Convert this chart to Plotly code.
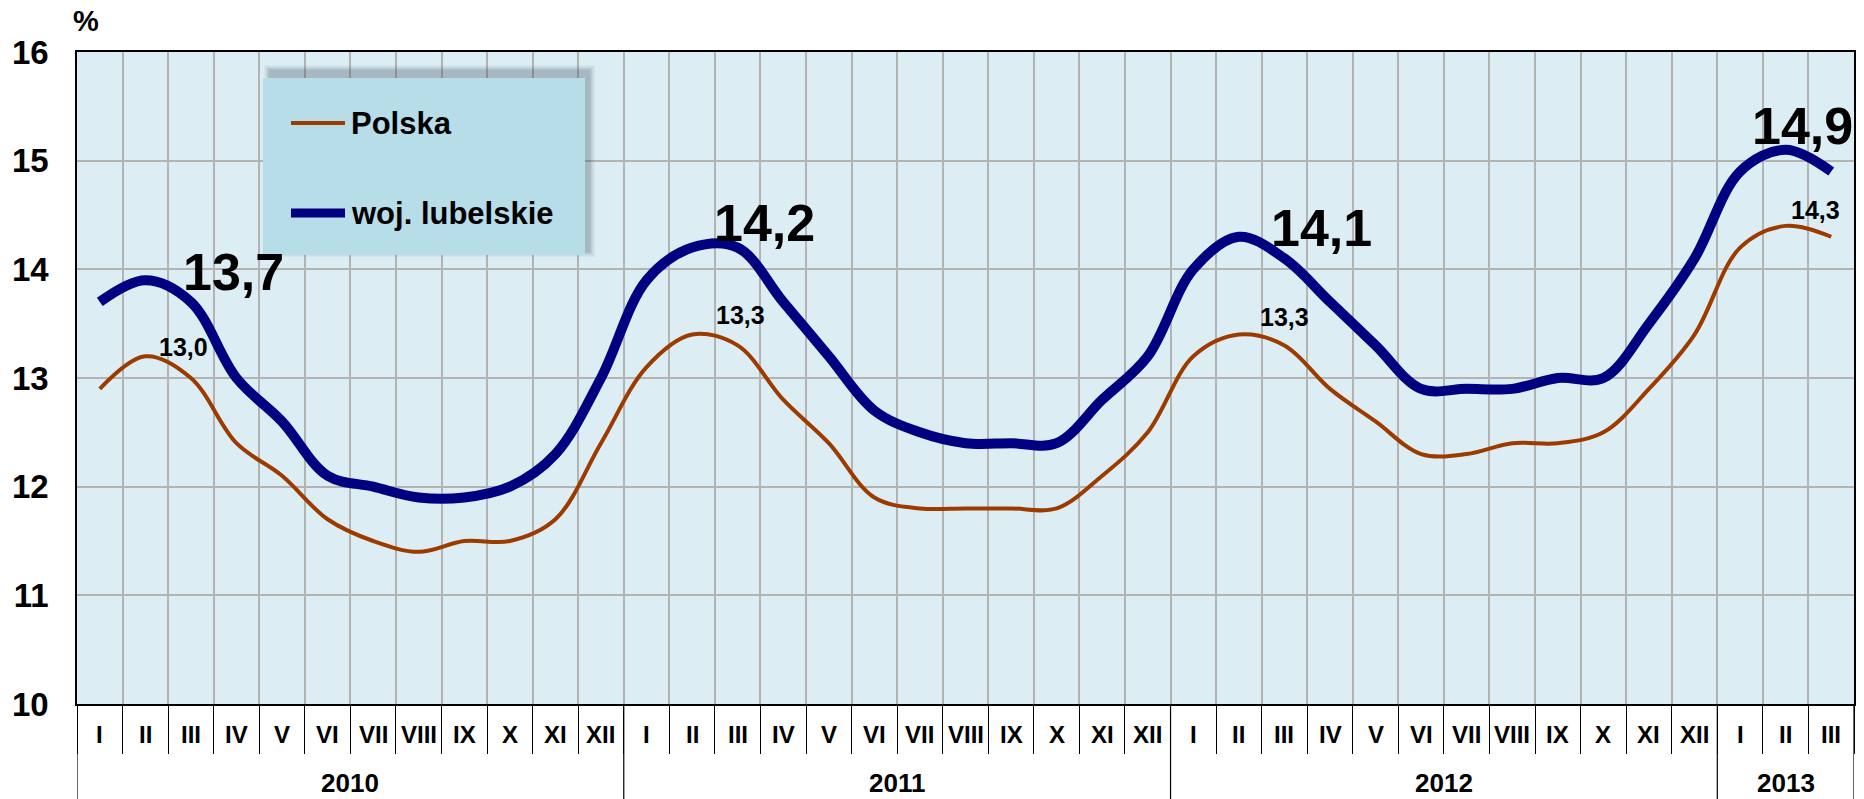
import plotly.graph_objects as go

# ---- data ----
months = ["I", "II", "III", "IV", "V", "VI", "VII", "VIII", "IX", "X", "XI", "XII"]
years = ["2010", "2011", "2012", "2013"]
months_per_year = [12, 12, 12, 3]
month_labels = months * 3 + months[:3]

polska = [12.9, 13.2, 13.0, 12.4, 12.1, 11.7, 11.5, 11.4, 11.5, 11.5, 11.7, 12.4,
          13.1, 13.4, 13.3, 12.8, 12.4, 11.9, 11.8, 11.8, 11.8, 11.8, 12.1, 12.5,
          13.2, 13.4, 13.3, 12.9, 12.6, 12.3, 12.3, 12.4, 12.4, 12.5, 12.9, 13.4,
          14.2, 14.4, 14.3]
lubelskie = [13.7, 13.9, 13.7, 13.0, 12.6, 12.1, 12.0, 11.9, 11.9, 12.0, 12.3, 13.0,
             13.9, 14.2, 14.2, 13.7, 13.2, 12.7, 12.5, 12.4, 12.4, 12.4, 12.8, 13.2,
             14.0, 14.3, 14.1, 13.7, 13.3, 12.9, 12.9, 12.9, 13.0, 13.0, 13.5, 14.1,
             14.9, 15.1, 14.9]
series_names = ["Polska", "woj. lubelskie"]
series_colors = ["#9C3A00", "#000080"]
series_widths = [4, 10]
label_idx = [2, 14, 26, 38]
y_ticks = [10, 11, 12, 13, 14, 15, 16]

# ---- layout geometry (pixels) ----
W, H = 1864, 799
L, R, T, B = 77, 10, 52, 95
PW, PH = W - L - R, H - T - B


def px(X):
    return (X - L) / PW


def py(Y):
    return (H - B - Y) / PH


FONT = "Liberation Sans, Arial, sans-serif"
n = len(month_labels)
xs = list(range(n))

fig = go.Figure()
for name, vals, col, wid in zip(series_names, [polska, lubelskie], series_colors, series_widths):
    fig.add_trace(go.Scatter(
        x=xs, y=vals, name=name, mode="lines", showlegend=False,
        line=dict(color=col, width=wid, shape="spline", smoothing=1.0),
    ))

ann = []
# data labels
big_off = [(43, 30), (27, 25), (37, 30), (-29, 46)]
small_off = [(-7, 31), (3, 30), (0, 28), (-16, 27)]
for i, k in enumerate(label_idx):
    ann.append(dict(x=k, y=lubelskie[k], text=f"{lubelskie[k]:.1f}".replace(".", ","),
                    showarrow=False, xanchor="center", yanchor="middle",
                    xshift=big_off[i][0], yshift=big_off[i][1],
                    font=dict(family=FONT, size=52, color="black", weight="bold")))
    ann.append(dict(x=k, y=polska[k], text=f"{polska[k]:.1f}".replace(".", ","),
                    showarrow=False, xanchor="center", yanchor="middle",
                    xshift=small_off[i][0], yshift=small_off[i][1],
                    font=dict(family=FONT, size=25, color="black", weight="bold")))

# month labels
for k, m in enumerate(month_labels):
    ann.append(dict(x=k, y=py(734), yref="paper", text=m, showarrow=False,
                    xanchor="center", yanchor="middle",
                    font=dict(family=FONT, size=24, color="black", weight="bold")))
# year labels and separators
shapes = []
start = 0
bounds = [-0.5]
for yr, cnt in zip(years, months_per_year):
    ann.append(dict(x=start + (cnt - 1) / 2, y=py(783), yref="paper", text=yr,
                    showarrow=False, xanchor="center", yanchor="middle",
                    font=dict(family=FONT, size=26, color="black", weight="bold")))
    start += cnt
    bounds.append(start - 0.5)
for b in bounds:
    shapes.append(dict(type="line", xref="x", yref="paper", x0=b, x1=b,
                       y0=0, y1=py(H), line=dict(color="black", width=1.2)))

# percent sign
ann.append(dict(x=px(86), y=py(21), xref="paper", yref="paper", text="%",
                showarrow=False, xanchor="center", yanchor="middle",
                font=dict(family=FONT, size=29, color="black", weight="bold")))

# legend box with soft shadow
bx0, bx1, by0, by1 = 263, 585, 78, 255
for d, op in [(12, 0.05), (9, 0.07), (6, 0.10), (3, 0.14)]:
    shapes.append(dict(type="rect", xref="paper", yref="paper", layer="above",
                       x0=px(bx0 + 7 - d / 2), x1=px(bx1 + 4 + d / 2),
                       y0=py(by1 - 4 + d / 2), y1=py(by0 - 7 - d / 2),
                       fillcolor=f"rgba(60,80,90,{op})", line=dict(width=0)))
shapes.append(dict(type="rect", xref="paper", yref="paper", layer="above",
                   x0=px(bx0), x1=px(bx1), y0=py(by1), y1=py(by0),
                   fillcolor="#B7DDE8", line=dict(width=0)))
# legend entries
for name, col, wid, ly in zip(series_names, series_colors, series_widths, [123, 213]):
    shapes.append(dict(type="line", xref="paper", yref="paper", layer="above",
                       x0=px(291), x1=px(345), y0=py(ly), y1=py(ly),
                       line=dict(color=col, width=wid - 1 if wid > 5 else wid)))
    ann.append(dict(x=px(349), y=py(ly), xref="paper", yref="paper", text=name,
                    showarrow=False, xanchor="left", yanchor="middle",
                    font=dict(family=FONT, size=31, color="black", weight="bold")))

fig.update_layout(
    width=W, height=H,
    margin=dict(l=L, r=R, t=T, b=B, autoexpand=False),
    paper_bgcolor="white",
    plot_bgcolor="#DCEEF4",
    showlegend=False,
    annotations=ann,
    shapes=shapes,
    xaxis=dict(range=[-0.5, n - 0.5], tickmode="array",
               tickvals=[k - 0.5 for k in range(n + 1)],
               ticktext=[""] * (n + 1), automargin=False,
               showgrid=True, gridcolor="#B3B3B3", gridwidth=1.5,
               ticks="outside", ticklen=48, tickcolor="black", tickwidth=1.2,
               showline=True, linecolor="black", linewidth=1.5, mirror=True,
               zeroline=False, fixedrange=True),
    yaxis=dict(range=[10, 16], tickmode="array", tickvals=y_ticks,
               ticktext=[str(v) for v in y_ticks], automargin=False,
               showgrid=True, gridcolor="#B3B3B3", gridwidth=1.5,
               ticks="", ticklabelstandoff=20,
               tickfont=dict(family=FONT, size=33, color="black", weight="bold"),
               showline=True, linecolor="black", linewidth=1.5, mirror=True,
               zeroline=False, fixedrange=True),
)

fig.write_html(
    "out.html",
    config={"displayModeBar": False},
    post_script="document.body.style.margin='0px';document.body.style.overflow='hidden';",
)
